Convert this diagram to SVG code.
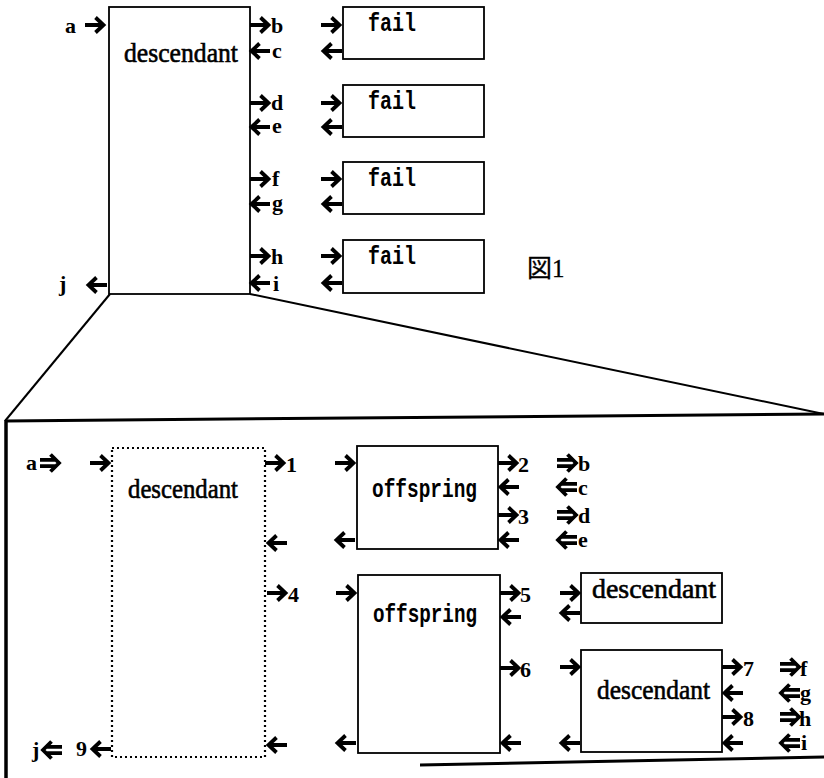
<svg xmlns="http://www.w3.org/2000/svg" width="824" height="778" viewBox="0 0 824 778">
<style>
.bx{fill:none;stroke:#000;stroke-width:1.8}
.dot{fill:none;stroke:#000;stroke-width:2.2;stroke-dasharray:2 3}
.ar{fill:none;stroke:#000;stroke-width:3.8;stroke-linecap:butt;stroke-linejoin:miter}
.ln{fill:none;stroke:#000}
.lb{font-family:"Liberation Serif",serif;font-weight:bold;font-size:22px;fill:#000}
.ds{font-family:"Liberation Serif",serif;font-size:27px;fill:#000;stroke:#000;stroke-width:0.6}
.mo{font-family:"Liberation Mono",monospace;font-weight:bold;font-size:25px;fill:#000}
.fig{font-family:"Liberation Serif","Noto Sans CJK JP",serif;font-size:25px;fill:#000;stroke:#000;stroke-width:0.3}
</style>
<defs>
<path id="R" class="ar" d="M0,0 H17 M10.5,-7.5 L18.5,0 L10.5,7.5"/>
<path id="L" class="ar" d="M20,0 H3 M9.5,-7.5 L1.5,0 L9.5,7.5"/>
<path id="DR" class="ar" d="M0,-3.2 H15 M0,3.2 H15 M10.5,-8.5 L19,0 L10.5,8.5"/>
<path id="DL" class="ar" d="M20,-3.2 H5 M20,3.2 H5 M9.5,-8.5 L1,0 L9.5,8.5"/>
</defs>
<rect width="824" height="778" fill="#fff"/>

<g id="zoom-frame">
<path class="ln" stroke-width="2" d="M110,294 L5,421"/>
<path class="ln" stroke-width="2" d="M250,294 L824,414"/>
<path class="ln" stroke-width="3" d="M5,421 L824,414"/>
<path class="ln" stroke-width="3.5" d="M6,420 L6,778"/>
<path class="ln" stroke-width="3" d="M420,765 L824,757"/>
</g>

<g id="top-descendant">
<rect class="bx" x="109" y="7" width="141" height="287"/>
<text class="ds" x="124" y="62" textLength="114" lengthAdjust="spacingAndGlyphs">descendant</text>
</g>
<g id="fail1"><rect class="bx" x="343" y="7" width="141" height="52"/><text class="mo" x="368" y="31" textLength="48" lengthAdjust="spacingAndGlyphs">fail</text></g>
<g id="fail2"><rect class="bx" x="343" y="85" width="141" height="52"/><text class="mo" x="368" y="109" textLength="48" lengthAdjust="spacingAndGlyphs">fail</text></g>
<g id="fail3"><rect class="bx" x="343" y="162" width="141" height="52"/><text class="mo" x="368" y="186" textLength="48" lengthAdjust="spacingAndGlyphs">fail</text></g>
<g id="fail4"><rect class="bx" x="343" y="240" width="141" height="53"/><text class="mo" x="368" y="264" textLength="48" lengthAdjust="spacingAndGlyphs">fail</text></g>
<g id="caption"><text class="fig" x="527" y="277">図1</text></g>

<g id="inner-descendant">
<rect class="dot" x="112" y="448" width="153" height="309"/>
<text class="ds" x="128" y="498" font-size="25" textLength="110" lengthAdjust="spacingAndGlyphs">descendant</text>
</g>
<g id="offspring1">
<rect class="bx" x="357" y="446" width="141" height="103"/>
<text class="mo" x="372" y="497" textLength="105" lengthAdjust="spacingAndGlyphs">offspring</text>
</g>
<g id="offspring2">
<rect class="bx" x="358" y="575" width="142" height="178"/>
<text class="mo" x="373" y="622" textLength="104" lengthAdjust="spacingAndGlyphs">offspring</text>
</g>
<g id="descendant-a">
<rect class="bx" x="581" y="573" width="141" height="50"/>
<text class="ds" x="592" y="598" textLength="124" lengthAdjust="spacingAndGlyphs">descendant</text>
</g>
<g id="descendant-b">
<rect class="bx" x="581" y="650" width="141" height="102"/>
<text class="ds" x="597" y="699" font-size="26" textLength="113" lengthAdjust="spacingAndGlyphs">descendant</text>
</g>

<g id="connectors">
<use href="#R" x="85" y="25"/>
<use href="#R" x="250" y="25"/><use href="#L" x="250" y="51"/>
<use href="#R" x="250" y="103"/><use href="#L" x="250" y="127"/>
<use href="#R" x="250" y="179"/><use href="#L" x="250" y="204"/>
<use href="#R" x="250" y="256"/><use href="#L" x="250" y="283"/>
<use href="#L" x="87" y="285"/>
<use href="#R" x="321" y="25"/><use href="#L" x="322" y="51"/>
<use href="#R" x="321" y="103"/><use href="#L" x="322" y="127"/>
<use href="#R" x="321" y="179"/><use href="#L" x="322" y="204"/>
<use href="#R" x="321" y="256"/><use href="#L" x="322" y="283"/>

<use href="#DR" x="40" y="463"/>
<use href="#R" x="90" y="463"/>
<use href="#R" x="265" y="463"/>
<use href="#L" x="267" y="543"/>
<use href="#R" x="267" y="593"/>
<use href="#L" x="267" y="745"/>
<use href="#DL" x="42" y="750"/>
<use href="#L" x="91" y="749"/>

<use href="#R" x="335" y="463"/><use href="#L" x="335" y="540"/>
<use href="#R" x="498" y="463"/><use href="#L" x="499" y="487"/>
<use href="#R" x="498" y="515"/><use href="#L" x="499" y="540"/>
<use href="#DR" x="557" y="463"/><use href="#DL" x="557" y="487"/>
<use href="#DR" x="557" y="515"/><use href="#DL" x="557" y="540"/>

<use href="#R" x="336" y="593"/><use href="#L" x="336" y="743"/>
<use href="#R" x="500" y="593"/><use href="#L" x="501" y="617"/>
<use href="#R" x="500" y="668"/><use href="#L" x="501" y="743"/>

<use href="#R" x="560" y="593"/><use href="#L" x="560" y="613"/>
<use href="#R" x="560" y="667"/><use href="#L" x="560" y="743"/>
<use href="#R" x="722" y="667"/><use href="#L" x="723" y="693"/>
<use href="#R" x="722" y="717"/><use href="#L" x="723" y="743"/>
<use href="#DR" x="780" y="667"/><use href="#DL" x="780" y="693"/>
<use href="#DR" x="780" y="717"/><use href="#DL" x="780" y="743"/>
</g>

<g id="labels">
<text class="lb" x="65" y="33">a</text>
<text class="lb" x="271" y="33">b</text>
<text class="lb" x="272" y="58">c</text>
<text class="lb" x="271" y="110">d</text>
<text class="lb" x="272" y="133">e</text>
<text class="lb" x="272" y="186">f</text>
<text class="lb" x="272" y="210">g</text>
<text class="lb" x="271" y="264">h</text>
<text class="lb" x="273" y="291">i</text>
<text class="lb" x="59" y="291">j</text>

<text class="lb" x="26" y="470">a</text>
<text class="lb" x="286" y="472">1</text>
<text class="lb" x="288" y="602">4</text>
<text class="lb" x="32" y="757">j</text>
<text class="lb" x="76" y="756">9</text>
<text class="lb" x="518" y="472">2</text>
<text class="lb" x="518" y="524">3</text>
<text class="lb" x="578" y="471">b</text>
<text class="lb" x="578" y="495">c</text>
<text class="lb" x="578" y="523">d</text>
<text class="lb" x="578" y="547">e</text>
<text class="lb" x="520" y="602">5</text>
<text class="lb" x="520" y="677">6</text>
<text class="lb" x="743" y="676">7</text>
<text class="lb" x="743" y="726">8</text>
<text class="lb" x="800" y="676">f</text>
<text class="lb" x="800" y="700">g</text>
<text class="lb" x="799" y="726">h</text>
<text class="lb" x="801" y="750">i</text>
</g>
</svg>
